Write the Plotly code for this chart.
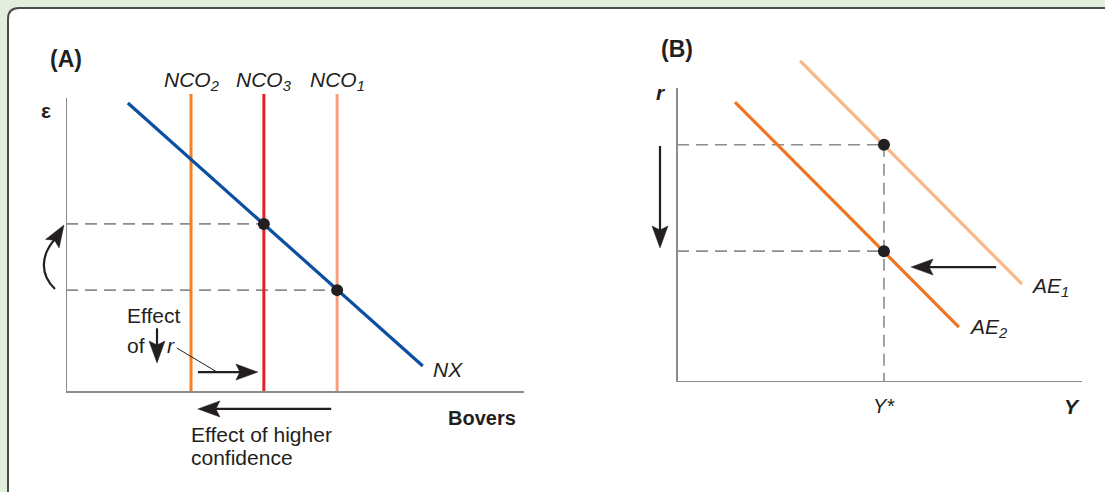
import math
import plotly.graph_objects as go

W, H = 1105, 492

# ---------------- Panel A data (arbitrary units) ----------------
nco_labels = ["NCO<sub>2</sub>", "NCO<sub>3</sub>", "NCO<sub>1</sub>"]
nco_x = [27.3, 43.2, 59.2]
nco_colors = ["#f28024", "#e4202a", "#f5a081"]
nco_top = 100.3
nx_x = [13.5, 77.9]
nx_eps = [97.3, 8.75]
eq_a_x = [43.2, 59.2]
eq_a_eps = [56.6, 34.3]

# ---------------- Panel B data ----------------
ae1_y = [30.4, 85.2]
ae1_r = [109.2, 33.3]
ae2_y = [14.3, 69.6]
ae2_r = [95.2, 18.7]
y_star = 51.1
eq_b_r = [80.7, 44.5]

AXC = "#8c8c8c"
TXT = "#231f20"
FONT = "Liberation Sans, Arial, Helvetica, sans-serif"

# pixel scale of each panel (pixels per data unit)
A_SX, A_SY = 4.58, 2.97
B_SX, B_SY = 4.05, 2.94


def pxx(x):
    return x / W


def pyy(y):
    return 1 - y / H


fig = go.Figure()

# Panel A traces
for xv, col in zip(nco_x, nco_colors):
    fig.add_trace(go.Scatter(x=[xv, xv], y=[0, nco_top], mode="lines",
                             line=dict(color=col, width=3), xaxis="x", yaxis="y"))
fig.add_trace(go.Scatter(x=nx_x, y=nx_eps, mode="lines",
                         line=dict(color="#0b4fa0", width=3.2), xaxis="x", yaxis="y"))
fig.add_trace(go.Scatter(x=eq_a_x, y=eq_a_eps, mode="markers",
                         marker=dict(color=TXT, size=12), xaxis="x", yaxis="y",
                         cliponaxis=False))

# Panel B traces
fig.add_trace(go.Scatter(x=ae1_y, y=ae1_r, mode="lines",
                         line=dict(color="#fbb686", width=3.2), xaxis="x2", yaxis="y2"))
fig.add_trace(go.Scatter(x=ae2_y, y=ae2_r, mode="lines",
                         line=dict(color="#f07522", width=3.2), xaxis="x2", yaxis="y2"))
fig.add_trace(go.Scatter(x=[y_star, y_star], y=eq_b_r, mode="markers",
                         marker=dict(color=TXT, size=12), xaxis="x2", yaxis="y2",
                         cliponaxis=False))

shapes = []
# white panel with rounded corner
shapes.append(dict(
    type="path", xref="paper", yref="paper", layer="below",
    path=(f"M {pxx(8)},{pyy(510)} L {pxx(8)},{pyy(19)} "
          f"Q {pxx(8)},{pyy(8)} {pxx(19)},{pyy(8)} "
          f"L {pxx(1120)},{pyy(8)} L {pxx(1120)},{pyy(510)} Z"),
    fillcolor="white", line=dict(color="#4a4a4a", width=2)))

dash = "12px,7px"
# Panel A axes
shapes.append(dict(type="line", xref="x", yref="y", x0=0, y0=0, x1=100, y1=0,
                   line=dict(color=AXC, width=2)))
shapes.append(dict(type="line", xref="x", yref="y", x0=0, y0=0, x1=0, y1=99,
                   line=dict(color=AXC, width=2)))
for xv, ev in zip(eq_a_x, eq_a_eps):
    shapes.append(dict(type="line", xref="x", yref="y", x0=0, y0=ev, x1=xv, y1=ev,
                       line=dict(color=AXC, width=1.6, dash=dash), layer="below"))
# leader line for "r"
shapes.append(dict(type="line", xref="x", yref="y", x0=24.2, y0=14.8, x1=33.0, y1=6.7,
                   line=dict(color=TXT, width=1)))
# curved arrow body
shapes.append(dict(type="path", xref="paper", yref="paper",
                   path=(f"M {pxx(55)},{pyy(289)} C {pxx(40)},{pyy(275)} "
                         f"{pxx(40)},{pyy(255)} {pxx(56)},{pyy(238)}"),
                   line=dict(color=TXT, width=2.2)))

# Panel B axes
shapes.append(dict(type="line", xref="x2", yref="y2", x0=0, y0=0, x1=100, y1=0,
                   line=dict(color=AXC, width=2)))
shapes.append(dict(type="line", xref="x2", yref="y2", x0=0, y0=0, x1=0, y1=100,
                   line=dict(color=AXC, width=2)))
for rv in eq_b_r:
    shapes.append(dict(type="line", xref="x2", yref="y2", x0=0, y0=rv, x1=y_star, y1=rv,
                       line=dict(color=AXC, width=1.6, dash=dash), layer="below"))
shapes.append(dict(type="line", xref="x2", yref="y2", x0=y_star, y0=eq_b_r[0], x1=y_star, y1=0,
                   line=dict(color=AXC, width=1.6, dash=dash), layer="below"))

HEAD_L, HEAD_W, HEAD_N = 22.0, 16.0, 18.0


def head(xt, yt, dx, dy, xref, yref):
    """stealth arrow head (pixel sized) with its tip at (xt, yt); (dx, dy) direction, y up."""
    n = math.hypot(dx, dy)
    dx, dy = dx / n, dy / n
    nx, ny = -dy, dx
    p1 = (-HEAD_L * dx + HEAD_W / 2 * nx, -HEAD_L * dy + HEAD_W / 2 * ny)
    p2 = (-HEAD_N * dx, -HEAD_N * dy)
    p3 = (-HEAD_L * dx - HEAD_W / 2 * nx, -HEAD_L * dy - HEAD_W / 2 * ny)
    path = (f"M 0,0 L {p1[0]:.2f},{p1[1]:.2f} L {p2[0]:.2f},{p2[1]:.2f} "
            f"L {p3[0]:.2f},{p3[1]:.2f} Z")
    shapes.append(dict(type="path", xref=xref, yref=yref, xsizemode="pixel", ysizemode="pixel",
                       xanchor=xt, yanchor=yt, path=path, fillcolor=TXT,
                       line=dict(color=TXT, width=0.5)))


def arrow(x, y, ax, ay, xref, yref, sx, sy):
    dx, dy = (x - ax) * sx, (y - ay) * sy
    n = math.hypot(dx, dy)
    back = HEAD_N - 2
    xe = x - back * dx / n / sx
    ye = y - back * dy / n / sy
    shapes.append(dict(type="line", xref=xref, yref=yref, x0=ax, y0=ay, x1=xe, y1=ye,
                       line=dict(color=TXT, width=2.2)))
    head(x, y, dx, dy, xref, yref)


ann = []


def text(x, y, t, size=21, bold=False, italic=False, xanchor="center", xref="paper", yref="paper"):
    if italic:
        t = f"<i>{t}</i>"
    if bold:
        t = f"<b>{t}</b>"
    ann.append(dict(x=x, y=y, xref=xref, yref=yref, text=t, showarrow=False,
                    xanchor=xanchor, yanchor="middle",
                    font=dict(family=FONT, size=size, color=TXT)))


# Panel A text
text(pxx(66), pyy(59), "(A)", size=23, bold=True)
text(pxx(46), pyy(111), "ε", size=21, bold=True)
for xv, lab in zip(nco_x, nco_labels):
    ann.append(dict(x=xv, y=pyy(81), xref="x", yref="paper", text=f"<i>{lab}</i>",
                    showarrow=False, xanchor="center", yanchor="middle",
                    font=dict(family=FONT, size=21, color=TXT)))
text(pxx(431), pyy(369), "NX", italic=True, xanchor="left")
text(pxx(482), pyy(418), "Bovers", size=20, bold=True)
text(pxx(189), pyy(434), "Effect of higher", xanchor="left")
text(pxx(189), pyy(457), "confidence", xanchor="left")
text(pxx(153), pyy(315), "Effect")
text(pxx(125), pyy(345), "of", xanchor="left")
text(pxx(171), pyy(345), "r", italic=True)

arrow(41.9, 6.7, 28.8, 6.7, "x", "y", A_SX, A_SY)
arrow(28.8, -5.7, 57.9, -5.7, "x", "y", A_SX, A_SY)
arrow(19.87, 9.76, 19.87, 21.5, "x", "y", A_SX, A_SY)
# head of the curved arrow (tip direction: right and up)
head(pxx(64), pyy(225), 10, 16, "paper", "paper")

# Panel B text
text(pxx(677), pyy(49), "(B)", size=23, bold=True)
text(pxx(661), pyy(93), "r", size=21, bold=True, italic=True)
text(pxx(1029), pyy(287), "AE<sub>1</sub>", italic=True, xanchor="left")
text(pxx(967), pyy(328), "AE<sub>2</sub>", italic=True, xanchor="left")
ann.append(dict(x=y_star, y=pyy(406), xref="x2", yref="paper", text="<i>Y*</i>",
                showarrow=False, xanchor="center", yanchor="middle",
                font=dict(family=FONT, size=20, color=TXT)))
text(pxx(1072), pyy(406), "Y", size=21, bold=True, italic=True)

arrow(57.8, 39.1, 78.8, 39.1, "x2", "y2", B_SX, B_SY)
arrow(-4.2, 45.6, -4.2, 80.3, "x2", "y2", B_SX, B_SY)

ax_common = dict(showgrid=False, zeroline=False, showticklabels=False, showline=False,
                 ticks="", fixedrange=True)

A_Y0, A_Y1 = -12, 102
B_X0, B_X1 = -10, 100
fig.update_layout(
    width=W, height=H,
    margin=dict(l=0, r=0, t=0, b=0),
    paper_bgcolor="#e2efdc",
    plot_bgcolor="rgba(0,0,0,0)",
    showlegend=False,
    hovermode=False,
    shapes=shapes,
    annotations=ann,
    xaxis=dict(domain=[pxx(66), pxx(524)], range=[0, 100], **ax_common),
    yaxis=dict(domain=[pyy(392 - A_SY * A_Y0), pyy(392 - A_SY * A_Y1)],
               range=[A_Y0, A_Y1], **ax_common),
    xaxis2=dict(domain=[pxx(677 + B_SX * B_X0), pxx(677 + B_SX * B_X1)],
                range=[B_X0, B_X1], anchor="y2", **ax_common),
    yaxis2=dict(domain=[pyy(382), pyy(382 - B_SY * 112)], range=[0, 112], anchor="x2", **ax_common),
)

fig.write_html("out.html", config=dict(displayModeBar=False),
               post_script="document.body.style.margin='0';document.body.style.padding='0';")
